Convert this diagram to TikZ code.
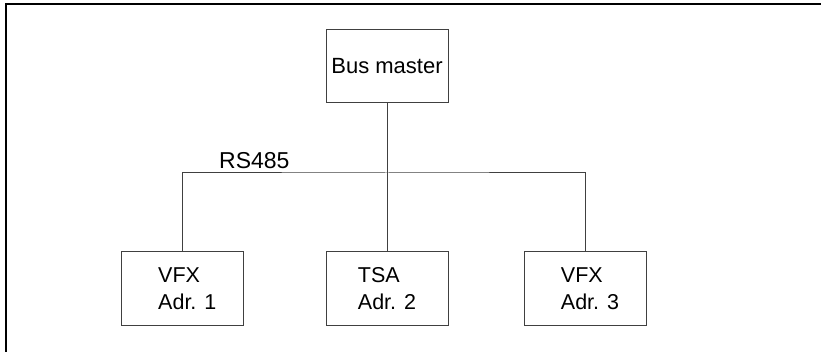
\documentclass[tikz,border=0pt]{standalone}
\usepackage{fontspec}
\setmainfont{Liberation Sans}
\begin{document}
\begin{tikzpicture}[x=1pt,y=-1pt,
  unit/.style={draw=black!75, line width=1pt, minimum width=122pt, minimum height=73pt,
    inner sep=0pt, align=left, font=\fontsize{21.5}{27.5}\selectfont},
  wire/.style={draw=black!75, line width=1pt},
  frameline/.style={draw=black, line width=2pt}]
\useasboundingbox (0,0) rectangle (821,352);
\coordinate (fa) at (6,352);
\coordinate (fb) at (6,4);
\coordinate (fc) at (821,4);
\draw[frameline] (fa) -- (fb) -- (fc);
\node[unit, font=\fontsize{22}{26}\selectfont] (bm) at (387,66.5) {Bus master};
\node[unit] (v1) at (182.3,288.5) {\hspace*{10pt}VFX\\\hspace*{10pt}Adr. 1};
\node[unit] (tsa) at (387,288.5) {TSA\\Adr. 2};
\node[unit] (v3) at (585,288.5) {\hspace*{10pt}VFX\\\hspace*{10pt}Adr. 3};
\coordinate (bus) at (387,173);
\draw[wire] (v1.north) |- (bus) -| (v3.north);
\draw[wire] (bm.south) -- (tsa.north);
\node[anchor=base west, inner sep=0pt, font=\fontsize{23}{26}\selectfont] (rs) at (219,169) {RS485};
\end{tikzpicture}
\end{document}
